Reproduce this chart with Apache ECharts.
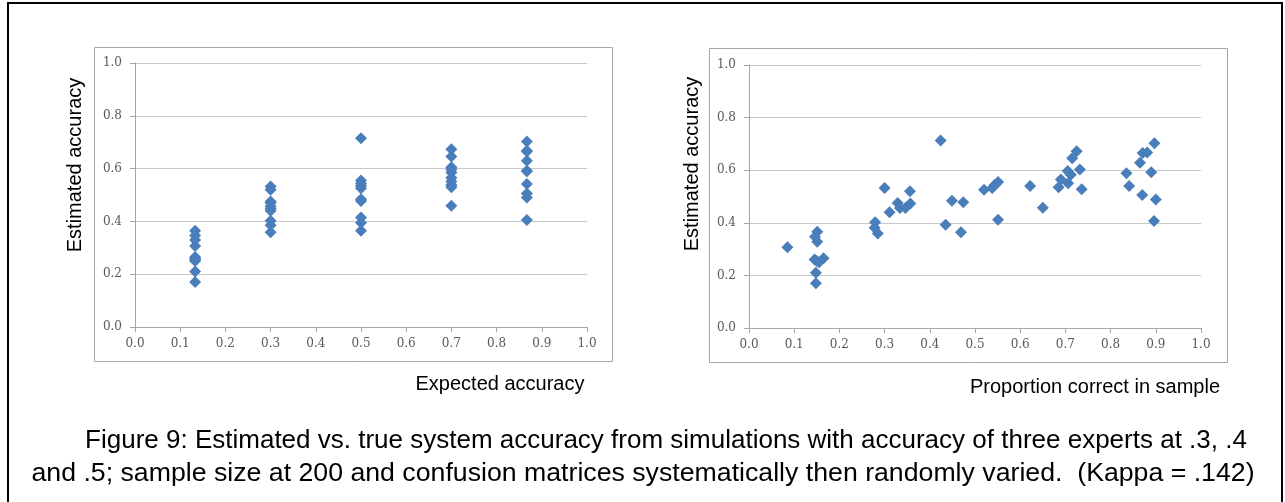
<!DOCTYPE html>
<html>
<head>
<meta charset="utf-8">
<script src="https://cdn.jsdelivr.net/npm/echarts@6/dist/echarts.min.js"></script>
<style>
  html, body { margin: 0; padding: 0; background: #fff; }
  #chart { width: 1285px; height: 502px; }
</style>
</head>
<body>
<div id="chart"></div>
<script>
// left panel: expected accuracy groups and the estimates in each
const expectedX = [0.133, 0.3, 0.5, 0.7, 0.867];
const estimatedByGroup = [
  [0.365, 0.347, 0.33, 0.307, 0.265, 0.26, 0.255, 0.25, 0.21, 0.17],
  [0.532, 0.52, 0.475, 0.47, 0.456, 0.448, 0.44, 0.402, 0.385, 0.359],
  [0.715, 0.555, 0.544, 0.534, 0.526, 0.484, 0.477, 0.415, 0.395, 0.365],
  [0.673, 0.646, 0.605, 0.597, 0.585, 0.565, 0.551, 0.538, 0.529, 0.459],
  [0.703, 0.668, 0.665, 0.63, 0.592, 0.59, 0.542, 0.506, 0.491, 0.405]
];

// right panel: proportion correct in sample vs estimated accuracy
const sampleProportion = [
  0.085, 0.151, 0.146, 0.151, 0.145, 0.155, 0.165, 0.15, 0.148, 0.148,
  0.3, 0.356, 0.329, 0.357, 0.334, 0.346, 0.311, 0.279, 0.278, 0.285,
  0.424, 0.435, 0.449, 0.469, 0.474, 0.52, 0.538, 0.544, 0.551, 0.551,
  0.622, 0.65, 0.685, 0.69, 0.705, 0.706, 0.712, 0.715, 0.725, 0.732, 0.736,
  0.835, 0.841, 0.865, 0.871, 0.881, 0.897, 0.89, 0.87, 0.9, 0.896
];
const sampleEstimated = [
  0.307, 0.366, 0.347, 0.328, 0.26, 0.25, 0.265, 0.255, 0.21, 0.17,
  0.532, 0.52, 0.475, 0.473, 0.456, 0.456, 0.44, 0.402, 0.381, 0.359,
  0.713, 0.393, 0.484, 0.364, 0.478, 0.526, 0.532, 0.545, 0.555, 0.412,
  0.54, 0.457, 0.535, 0.565, 0.597, 0.55, 0.583, 0.645, 0.672, 0.603, 0.528,
  0.588, 0.54, 0.628, 0.665, 0.667, 0.702, 0.592, 0.506, 0.489, 0.407
];

const captionLines = [
  'Figure 9: Estimated vs. true system accuracy from simulations with accuracy of three experts at .3, .4',
  'and .5; sample size at 200 and confusion matrices systematically then randomly varied.  (Kappa = .142)'
];

const leftData = [];
expectedX.forEach((x, i) => {
  estimatedByGroup[i].forEach(v => leftData.push([x, v]));
});
const rightData = sampleProportion.map((x, i) => [x, sampleEstimated[i]]);

const labelFont = '"DejaVu Serif", serif';
const titleFont = '"Liberation Sans", Arial, sans-serif';
const markColor = '#4a7ebb';

function xAxisOf(gridIndex) {
  return {
    gridIndex: gridIndex,
    type: 'value',
    min: 0, max: 1, interval: 0.1,
    axisLine: { show: true, lineStyle: { color: '#a6a6a6', width: 1 } },
    axisTick: { show: true, length: 5, lineStyle: { color: '#a6a6a6' } },
    splitLine: { show: false },
    axisLabel: {
      margin: 11, color: '#595959', fontSize: 12, fontFamily: labelFont,
      formatter: v => v.toFixed(1)
    }
  };
}

function yAxisOf(gridIndex) {
  return {
    gridIndex: gridIndex,
    type: 'value',
    min: 0, max: 1, interval: 0.2,
    axisLine: { show: true, lineStyle: { color: '#a6a6a6', width: 1 } },
    axisTick: { show: true, length: 5, lineStyle: { color: '#a6a6a6' } },
    splitLine: { show: true, lineStyle: { color: '#c8c8c8', width: 1 } },
    axisLabel: {
      margin: 13, color: '#595959', fontSize: 12, fontFamily: labelFont,
      formatter: v => v.toFixed(1)
    }
  };
}

function textAt(str, x, y, size, rotation) {
  return {
    type: 'text', x: x, y: y, rotation: rotation || 0, silent: true,
    style: { text: str, font: size + 'px ' + titleFont, fill: '#000',
             textAlign: 'center', textVerticalAlign: 'middle' }
  };
}

const chart = echarts.init(document.getElementById('chart'), null, { renderer: 'canvas' });

chart.setOption({
  backgroundColor: '#fff',
  animation: false,
  grid: [
    { left: 135, top: 63, width: 452, height: 264 },
    { left: 749, top: 65, width: 452, height: 263 }
  ],
  xAxis: [xAxisOf(0), xAxisOf(1)],
  yAxis: [yAxisOf(0), yAxisOf(1)],
  series: [
    {
      type: 'scatter', xAxisIndex: 0, yAxisIndex: 0,
      symbol: 'diamond', symbolSize: 12,
      itemStyle: { color: markColor, opacity: 1 },
      data: leftData
    },
    {
      type: 'scatter', xAxisIndex: 1, yAxisIndex: 1,
      symbol: 'diamond', symbolSize: 12,
      itemStyle: { color: markColor, opacity: 1 },
      data: rightData
    }
  ],
  graphic: [
    // outer figure border
    { type: 'rect', shape: { x: 8, y: 3, width: 1274, height: 520 },
      style: { fill: 'none', stroke: '#000', lineWidth: 2 }, silent: true },
    // chart area frames
    { type: 'rect', shape: { x: 94.5, y: 47.5, width: 518, height: 314 },
      style: { fill: 'none', stroke: '#a6a6a6', lineWidth: 1 }, silent: true },
    { type: 'rect', shape: { x: 709.5, y: 48.5, width: 518, height: 314 },
      style: { fill: 'none', stroke: '#a6a6a6', lineWidth: 1 }, silent: true },
    textAt('Estimated accuracy', 75, 165, 20, Math.PI / 2),
    textAt('Estimated accuracy', 692, 164, 20, Math.PI / 2),
    textAt('Expected accuracy', 500, 384, 20),
    textAt('Proportion correct in sample', 1095, 387, 20),
    textAt(captionLines[0], 666, 441, 26),
    textAt(captionLines[1], 643, 474, 26.7)
  ]
});
</script>
</body>
</html>
